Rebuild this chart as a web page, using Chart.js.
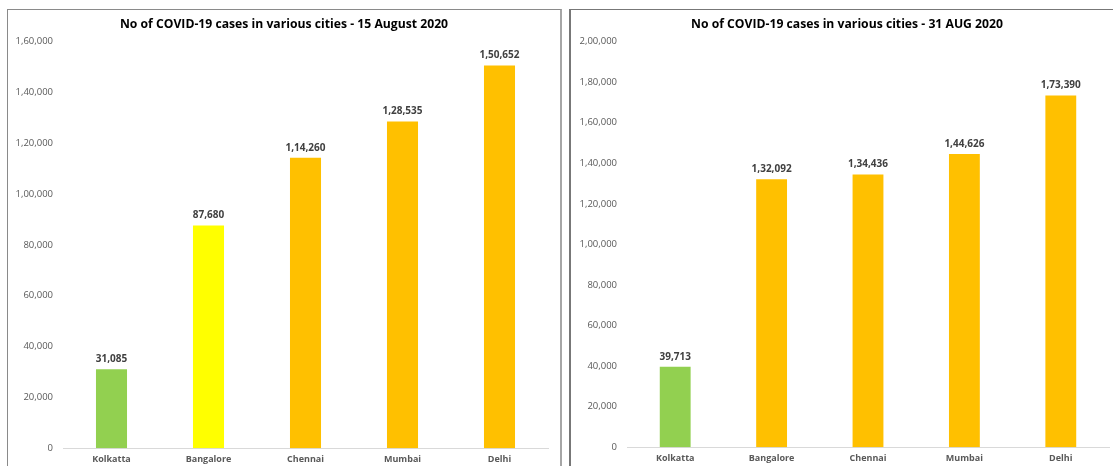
<!DOCTYPE html>
<html>
<head>
<meta charset="utf-8">
<script src="https://cdn.jsdelivr.net/npm/chart.js@4.4.1/dist/chart.umd.min.js"></script>
<style>
  html, body { margin: 0; padding: 0; background: #fff; width: 1113px; height: 466px; overflow: hidden; }
  .box { position: absolute; background: #fff; }
  #box1 { left: 7px; top: 9px; width: 552px; height: 470px; border: 1px solid #8a8a8a; border-right: 2px solid #a6a6a6; }
  #box2 { left: 569px; top: 9px; width: 560px; height: 470px; border: 1px solid #777; border-left: 2px solid #777; }
  canvas { display: block; }
</style>
</head>
<body>
<div class="box" id="box1"><canvas id="c1" width="552" height="464"></canvas></div>
<div class="box" id="box2"><canvas id="c2" width="552" height="463"></canvas></div>
<script>
const cities = ["Kolkatta", "Bangalore", "Chennai", "Mumbai", "Delhi"];
const cases15Aug = [31085, 87680, 114260, 128535, 150652];
const cases31Aug = [39713, 132092, 134436, 144626, 173390];
const colors15Aug = ["#92D050", "#FFFF00", "#FFC000", "#FFC000", "#FFC000"];
const colors31Aug = ["#92D050", "#FFC000", "#FFC000", "#FFC000", "#FFC000"];
const title15Aug = "No of COVID-19 cases in various cities - 15 August 2020";
const title31Aug = "No of COVID-19 cases in various cities - 31 AUG 2020";
const yTicks15 = [0, 20000, 40000, 60000, 80000, 100000, 120000, 140000, 160000];
const yTicks31 = [0, 20000, 40000, 60000, 80000, 100000, 120000, 140000, 160000, 180000, 200000];

function fmtIN(n) {
  const s = String(Math.round(n));
  if (s.length <= 3) return s;
  const last3 = s.slice(-3);
  let rest = s.slice(0, -3);
  const parts = [];
  while (rest.length > 2) { parts.unshift(rest.slice(-2)); rest = rest.slice(0, -2); }
  if (rest.length) parts.unshift(rest);
  return parts.join(",") + "," + last3;
}

const FONT = "'Open Sans', 'Liberation Sans', sans-serif";

const dataLabels = {
  id: "dataLabels",
  afterDatasetsDraw(chart) {
    const ctx = chart.ctx;
    const meta = chart.getDatasetMeta(0);
    const ds = chart.data.datasets[0];
    ctx.save();
    ctx.font = "bold 10px " + FONT;
    ctx.fillStyle = "#404040";
    ctx.textAlign = "center";
    ctx.textBaseline = "middle";
    meta.data.forEach((bar, i) => {
      ctx.fillText(fmtIN(ds.data[i]), bar.x, bar.y - 10);
    });
    ctx.restore();
  }
};

function makeChart(id, values, colors, title, ticks, yMax, leftW, rightW) {
  new Chart(document.getElementById(id), {
    type: "bar",
    data: {
      labels: cities,
      datasets: [{
        data: values,
        backgroundColor: colors,
        borderWidth: 0,
        categoryPercentage: 1.0,
        barPercentage: 0.32,
        yAxisID: "y"
      }]
    },
    options: {
      responsive: false,
      animation: false,
      events: [],
      layout: { padding: { left: 0, right: 0, top: 0, bottom: 3 } },
      plugins: {
        legend: { display: false },
        tooltip: { enabled: false },
        title: {
          display: true,
          text: title,
          color: "#000",
          font: { family: FONT, size: 12.2, weight: "bold" },
          padding: { top: 7, bottom: 10 }
        }
      },
      scales: {
        x: {
          grid: { display: false, drawTicks: false },
          border: { display: true, color: "#d9d9d9", width: 1 },
          ticks: { color: "#595959", padding: 6, font: { family: FONT, size: 9, weight: "bold" } }
        },
        y: {
          position: "left",
          min: 0,
          max: yMax,
          afterBuildTicks(scale) { scale.ticks = ticks.map(v => ({ value: v })); },
          afterFit(scale) { scale.width = leftW; },
          grid: { display: false, drawTicks: false },
          border: { display: false },
          ticks: {
            color: "#595959",
            padding: 10,
            font: { family: FONT, size: 9.5 },
            callback: v => fmtIN(v)
          }
        },
        yRightSpace: {
          position: "right",
          min: 0,
          max: 1,
          afterFit(scale) { scale.width = rightW; },
          grid: { display: false, drawTicks: false },
          border: { display: false },
          ticks: { display: false }
        }
      }
    },
    plugins: [dataLabels]
  });
}

makeChart("c1", cases15Aug, colors15Aug, title15Aug, yTicks15, 160000, 55, 12);
makeChart("c2", cases31Aug, colors31Aug, title31Aug, yTicks31, 200000, 56, 14);
</script>
</body>
</html>
